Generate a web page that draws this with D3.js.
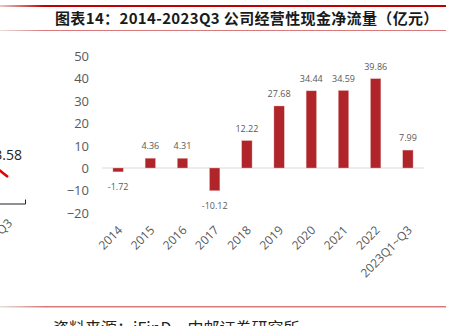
<!DOCTYPE html>
<html><head><meta charset="utf-8">
<script src="https://cdn.jsdelivr.net/npm/d3@7"></script>
<style>
html,body{margin:0;padding:0;background:#fff;overflow:hidden;}
svg{display:block;}
</style></head>
<body>
<svg id="c" width="462" height="326"></svg>
<script>
const categories = ["2014","2015","2016","2017","2018","2019","2020","2021","2022","2023Q1~Q3"];
const values = [-1.72, 4.36, 4.31, -10.12, 12.22, 27.68, 34.44, 34.59, 39.86, 7.99];
const yTicks = [-20,-10,0,10,20,30,40,50];
const title = "图表14：2014-2023Q3 公司经营性现金净流量（亿元）";
const source = "资料来源：iFinD，中邮证券研究所";
const leftValue = "3.58";
const leftCategory = "2023Q1~Q3";

const svg = d3.select("#c");
const defs = svg.append("defs");
const g1 = defs.append("linearGradient").attr("id","fade").attr("x1","0").attr("x2","1");
g1.append("stop").attr("offset","0").attr("stop-color","#e8c8c8");
g1.append("stop").attr("offset","0.1").attr("stop-color","#c00000");
g1.append("stop").attr("offset","1").attr("stop-color","#c00000");
const g2 = defs.append("linearGradient").attr("id","fade2").attr("x1","0").attr("x2","1");
g2.append("stop").attr("offset","0").attr("stop-color","#e6dede");
g2.append("stop").attr("offset","0.1").attr("stop-color","#d87a7a");
g2.append("stop").attr("offset","1").attr("stop-color","#d87a7a");

// header lines
svg.append("rect").attr("x",0).attr("y",5).attr("width",446).attr("height",2).attr("fill","url(#fade)");
svg.append("rect").attr("x",0).attr("y",30).attr("width",446).attr("height",1).attr("fill","url(#fade2)");
svg.append("text").attr("x",55).attr("y",24)
  .attr("font-family","'Noto Sans CJK SC', sans-serif").attr("font-weight","bold")
  .attr("font-size",15).attr("letter-spacing",0.35).attr("fill","#1a1a1a").text(title);

// footer
svg.append("rect").attr("x",0).attr("y",306).attr("width",446).attr("height",1.5).attr("fill","url(#fade2)");
svg.append("text").attr("x",53).attr("y",334)
  .attr("font-family","'Noto Sans CJK SC', sans-serif")
  .attr("font-size",16).attr("fill","#222").text(source);

// partial left chart remnant
svg.append("text").attr("x",22).attr("y",160).attr("text-anchor","end")
  .attr("font-family","'Open Sans', sans-serif").attr("font-size",14).attr("fill","#222").text(leftValue);
svg.append("line").attr("x1",-2).attr("y1",169).attr("x2",8).attr("y2",177)
  .attr("stroke","#e00000").attr("stroke-width",2.5);
svg.append("path").attr("d","M0,204H25.5V199.5").attr("fill","none").attr("stroke","#222").attr("stroke-width",1);
svg.append("text").attr("transform","translate(13,224) rotate(-45)").attr("text-anchor","end")
  .attr("font-family","'Open Sans', sans-serif").attr("font-size",12).attr("fill","#595959").text(leftCategory);

// main chart
const x = d3.scaleBand().domain(categories).range([102,424]).paddingInner(0.68).paddingOuter(0.34);
const y = d3.scaleLinear().domain([-20,50]).range([212.8,56]);

const yAxis = d3.axisLeft(y).tickValues(yTicks).tickSize(0).tickPadding(0);
const ya = svg.append("g").attr("transform","translate(89,0)").call(yAxis);
ya.select(".domain").remove();
ya.selectAll("text").attr("font-family","'Open Sans', sans-serif").attr("font-size",13).attr("fill","#595959").attr("dy","0.35em");

svg.append("line").attr("x1",102).attr("x2",424).attr("y1",y(0)).attr("y2",y(0))
  .attr("stroke","#d9d9d9").attr("stroke-width",1);

svg.append("g").selectAll("rect").data(values).join("rect")
  .attr("x",(d,i)=>x(categories[i]))
  .attr("width",x.bandwidth())
  .attr("y",d=>y(Math.max(0,d)))
  .attr("height",d=>Math.abs(y(d)-y(0)))
  .attr("fill","#b0252a").attr("stroke","#e8b0b0").attr("stroke-width",0.4);

svg.append("g").selectAll("text").data(values).join("text")
  .attr("x",(d,i)=>x(categories[i])+x.bandwidth()/2)
  .attr("y",d=> d>=0 ? y(d)-9 : y(d)+18)
  .attr("text-anchor","middle")
  .attr("font-family","'Open Sans', sans-serif").attr("font-size",9).attr("fill","#595959")
  .text(d=>d.toFixed(2));

const xAxis = d3.axisBottom(x).tickSize(0).tickPadding(0);
const xa = svg.append("g").call(xAxis);
xa.select(".domain").remove();
xa.selectAll(".tick text")
  .attr("y",0).attr("dy",0)
  .attr("text-anchor","end")
  .attr("transform","translate(5,231) rotate(-45)")
  .attr("font-family","'Open Sans', sans-serif").attr("font-size",12).attr("fill","#595959");
</script>
</body></html>
